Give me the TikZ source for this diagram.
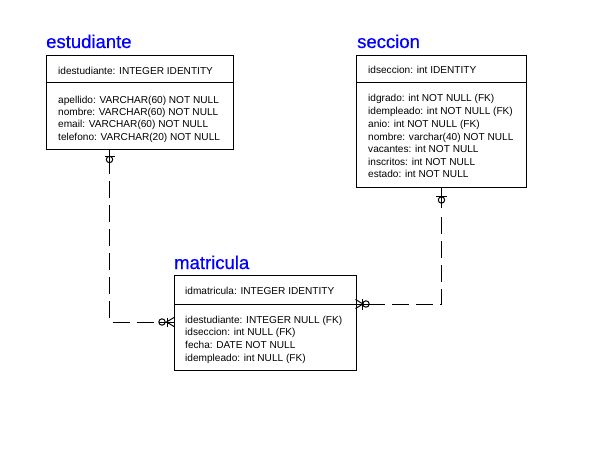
\documentclass[tikz,border=0pt]{standalone}
\usepackage{fontspec}
\setmainfont{Liberation Sans}
\newfontfamily\titlefont[FakeBold=0.6]{Liberation Sans}
\usetikzlibrary{calc}
\definecolor{titleblue}{RGB}{0,0,255}
\begin{document}
\begin{tikzpicture}[x=1pt,y=-1pt,
  box/.style={draw,line width=1pt,anchor=north west,inner sep=0pt},
  title/.style={anchor=base west,inner sep=0pt,text=titleblue,font=\titlefont\fontsize{18.5}{20}\selectfont},
  attr/.style={anchor=base west,inner sep=0pt,font=\fontsize{10.1}{12}\selectfont},
  sym/.style={line width=1pt},
  rel/.style={line width=1pt,dash pattern=on 17pt off 7pt}]
\useasboundingbox[fill=white] (0,0) rectangle (614,460);

% ---- estudiante
\node[title] (estT) at (46,48) {estudiante};
\node[box,minimum width=187pt,minimum height=94pt] (est) at (46,55) {};
\draw[sym] (46,83) -- (233,83);
\node[attr] (estA0) at (58,75) {idestudiante: INTEGER IDENTITY};
\node[attr] (estA1) at (58,103) {apellido: VARCHAR(60) NOT NULL};
\node[attr] (estA2) at (58,115.4) {nombre: VARCHAR(60) NOT NULL};
\node[attr] (estA3) at (58,127.8) {email: VARCHAR(60) NOT NULL};
\node[attr] (estA4) at (58,140.2) {telefono: VARCHAR(20) NOT NULL};

% ---- seccion
\node[title] (secT) at (357,48) {seccion};
\node[box,minimum width=170pt,minimum height=132pt] (sec) at (356,55) {};
\draw[sym] (356,82.5) -- (526,82.5);
\node[attr] (secA0) at (368,74) {idseccion: int IDENTITY};
\node[attr] (secA1) at (368,102) {idgrado: int NOT NULL (FK)};
\node[attr] (secA2) at (368,114.7) {idempleado: int NOT NULL (FK)};
\node[attr] (secA3) at (368,127.3) {anio: int NOT NULL (FK)};
\node[attr] (secA4) at (368,140) {nombre: varchar(40) NOT NULL};
\node[attr] (secA5) at (368,152.7) {vacantes: int NOT NULL};
\node[attr] (secA6) at (368,165.3) {inscritos: int NOT NULL};
\node[attr] (secA7) at (368,178) {estado: int NOT NULL};

% ---- matricula
\node[title] (matT) at (174,269) {matricula};
\node[box,minimum width=181.5pt,minimum height=95pt] (mat) at (174,275) {};
\draw[sym] (174,304) -- (355.5,304);
\node[attr] (matA0) at (185,294) {idmatricula: INTEGER IDENTITY};
\node[attr] (matA1) at (185,323) {idestudiante: INTEGER NULL (FK)};
\node[attr] (matA2) at (185,335.7) {idseccion: int NULL (FK)};
\node[attr] (matA3) at (185,348.3) {fecha: DATE NOT NULL};
\node[attr] (matA4) at (185,361) {idempleado: int NULL (FK)};

% ---- connector estudiante -> matricula
\coordinate (e0) at (est.south west -| 109.5,0);
\coordinate (e1) at (109.5,174);
\coordinate (e2) at (109.5,181);
\coordinate (ec) at (109.5,322);
\coordinate (e3) at (156,322);
\coordinate (e4) at (158.8,322);
\coordinate (e5) at (mat.west |- ec);
\draw[sym] (e0) -- (e1);
\draw[sym] (104.5,156) -- (114.5,156);
\draw[sym] (109.5,159.5) circle[radius=3.2];
\draw[rel] (e2) -- (ec) -- (e3);
\draw[sym] (e4) -- (e5);
\draw[sym] (162,322) circle[radius=3.2];
\draw[sym] (167.5,317.5) -- (167.5,326.5);
\draw[sym] (174,317.5) -- (166.5,322) -- (174,326.5);

% ---- connector seccion -> matricula
\coordinate (s0) at (sec.south west -| 441.5,0);
\coordinate (s1) at (441.5,208);
\coordinate (s2) at (441.5,217);
\coordinate (sc) at (441.5,304);
\coordinate (s3) at (372,304);
\coordinate (s5) at (mat.east |- sc);
\draw[sym] (s0) -- (s1);
\draw[sym] (436,196) -- (447,196);
\draw[sym] (441.5,200) circle[radius=3.2];
\draw[rel] (s2) -- (sc) -- (s3);
\draw[sym] (s5) -- (s3);
\draw[sym] (366,304) circle[radius=3.2];
\draw[sym] (362.5,298.5) -- (362.5,309.5);
\draw[sym] (355.5,299.5) -- (363,304) -- (355.5,308.5);
\end{tikzpicture}
\end{document}
